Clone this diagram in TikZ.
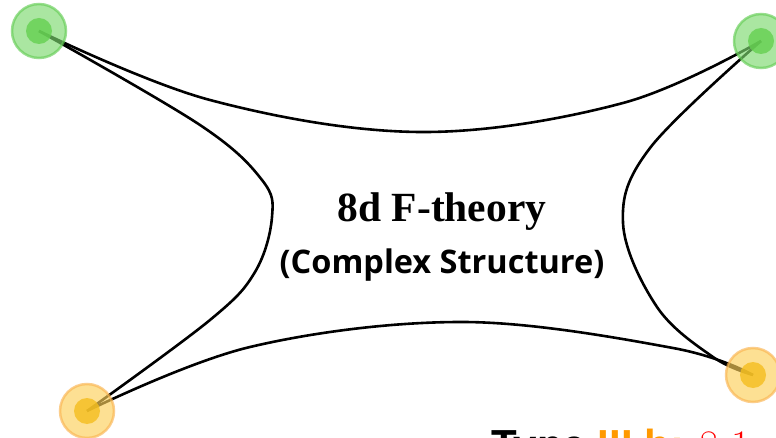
\documentclass[tikz,border=0pt]{standalone}
\usepackage{fontspec}
\newfontfamily\titlefont{Liberation Serif}
\newfontfamily\subfont{Open Sans}
\newfontfamily\typefont{Liberation Sans}
\definecolor{gOuter}{RGB}{125,218,112}
\definecolor{gRing}{RGB}{100,205,85}
\definecolor{gInner}{RGB}{100,208,80}
\definecolor{oOuter}{RGB}{252,208,90}
\definecolor{oRing}{RGB}{250,180,80}
\definecolor{oInner}{RGB}{245,190,30}
\definecolor{typeorange}{RGB}{255,153,0}
\tikzset{
  curve/.style={line width=2.6pt, black},
  ball/.style={circle, inner sep=0pt, minimum size=54pt, line width=2.5pt, opacity=0.65},
  greenball/.style={ball, fill=gOuter, draw=gRing},
  orangeball/.style={ball, fill=oOuter, draw=oRing},
  core/.style={circle, inner sep=0pt, minimum size=26pt, opacity=0.8},
  greencore/.style={core, fill=gInner},
  orangecore/.style={core, fill=oInner},
}
\begin{document}
\begin{tikzpicture}[x=1pt, y=-1pt]
\useasboundingbox (0,0) rectangle (776,438);
\clip (0,0) rectangle (776,438);
\fill[white] (0,0) rectangle (776,438);
% corner points
\coordinate (TL) at (39,31);
\coordinate (TR) at (761,41);
\coordinate (BL) at (87,411);
\coordinate (BR) at (753,375);
% curves
\draw[curve] plot[smooth, tension=0.6] coordinates {(TL) (210,100) (420,132) (623,103) (TR)};
\draw[curve] plot[smooth, tension=0.6] coordinates {(TL) (200,125) (262,180) (272,217) (255,272) (210,320) (BL)};
\draw[curve] plot[smooth, tension=0.6] coordinates {(TR) (650,148) (623,223) (657,307) (713,357) (BR)};
\draw[curve] plot[smooth, tension=0.6] coordinates {(BL) (250,347) (463,322) (673,348) (BR)};
% balls
\node[greenball] (g1) at (TL) {};
\node[greencore] (g1c) at (TL) {};
\node[greenball] (g2) at (TR) {};
\node[greencore] (g2c) at (TR) {};
\node[orangeball] (o1) at (BL) {};
\node[orangecore] (o1c) at (BL) {};
\node[orangeball] (o2) at (BR) {};
\node[orangecore] (o2c) at (BR) {};
% texts
\node[anchor=base, inner sep=0pt] (title) at (442,222) {\titlefont\bfseries\fontsize{41.5}{46}\selectfont 8d F-theory};
\node[anchor=base, inner sep=0pt] (sub) at (442,274) {\subfont\bfseries\fontsize{32.5}{38}\selectfont (Complex Structure)};
\node[anchor=base west, inner sep=0pt] (type) at (491,459) {\typefont\bfseries\fontsize{42}{48}\selectfont Type \textcolor{typeorange}{III b:} \textcolor{red}{\rmfamily\mdseries 8 1}};
\end{tikzpicture}
\end{document}
